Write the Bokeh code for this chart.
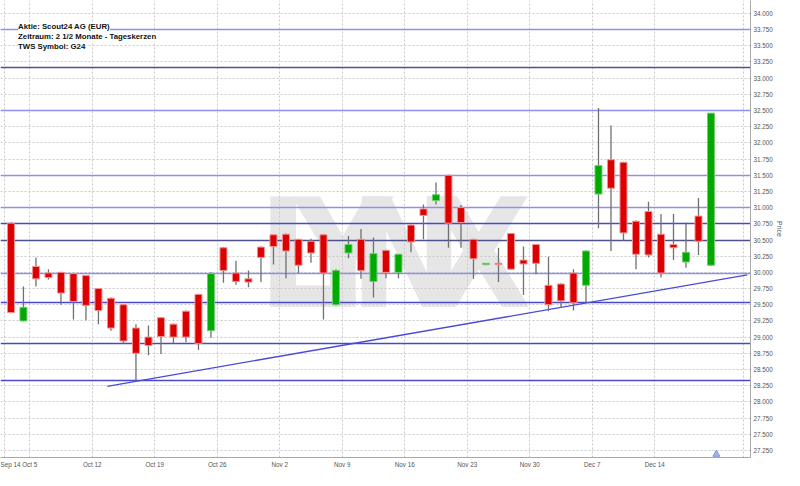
import numpy as np
from bokeh.plotting import figure
from bokeh.models import ColumnDataSource, FixedTicker, Range1d, Label, PrintfTickFormatter, Title
from bokeh.core.properties import value
from bokeh.embed import file_html
from bokeh.resources import INLINE

# ---- daily candles (Scout24 AG, EUR) ----
open_ = [30.76, 29.25, 30.09, 29.99, 30.00, 29.98, 29.95, 29.75, 29.60, 29.50,
         29.14, 29.00, 29.30, 29.20, 29.40, 29.66, 29.10, 30.38, 29.99, 29.90,
         30.39, 30.58, 30.59, 30.51, 30.48, 30.58, 29.50, 30.30, 30.51, 29.86,
         30.34, 30.00, 30.73, 30.98, 31.11, 31.50, 31.00, 30.51, 30.12, 30.14,
         30.60, 30.19, 30.43, 29.80, 29.82, 29.99, 29.80, 31.21, 31.74, 31.70,
         30.79, 30.94, 30.59, 30.43, 30.16, 30.87, 30.11]
high = [30.77, 29.78, 30.23, 30.05, 30.01, 29.99, 29.96, 29.76, 29.61, 29.51,
        29.20, 29.18, 29.31, 29.21, 29.41, 29.67, 30.00, 30.39, 30.18, 30.03,
        30.40, 30.59, 30.60, 30.52, 30.52, 30.59, 30.05, 30.56, 30.67, 30.54,
        30.35, 30.28, 30.74, 31.05, 31.39, 31.51, 31.04, 30.52, 30.14, 30.38,
        30.61, 30.40, 30.44, 30.24, 29.83, 30.05, 30.34, 32.54, 32.27, 31.71,
        30.80, 31.09, 30.90, 30.90, 30.77, 31.15, 32.46]
low = [29.37, 29.24, 29.78, 29.89, 29.50, 29.27, 29.26, 29.20, 29.10, 28.90,
       28.32, 28.72, 28.74, 28.90, 28.92, 28.80, 28.99, 29.84, 29.81, 29.77,
       29.85, 30.12, 29.91, 29.99, 30.15, 29.27, 29.49, 30.22, 29.90, 29.61,
       29.91, 29.91, 30.31, 30.51, 31.05, 30.38, 30.38, 29.90, 30.11, 29.85,
       30.04, 29.65, 29.97, 29.40, 29.45, 29.41, 29.53, 30.68, 30.33, 30.49,
       30.05, 30.23, 29.92, 30.19, 30.07, 30.27, 30.10]
close = [29.38, 29.46, 29.90, 29.92, 29.68, 29.55, 29.49, 29.41, 29.14, 28.94,
         28.75, 28.87, 29.01, 29.00, 29.00, 28.90, 29.98, 30.03, 29.86, 29.85,
         30.23, 30.40, 30.33, 30.11, 30.30, 29.99, 30.03, 30.43, 30.03, 30.29,
         30.00, 30.28, 30.47, 30.88, 31.20, 30.76, 30.77, 30.21, 30.14, 30.12,
         30.05, 30.13, 30.14, 29.50, 29.56, 29.53, 30.33, 31.65, 31.30, 30.61,
         30.28, 30.27, 29.99, 30.38, 30.31, 30.48, 32.46]

# ---- week labels (first candle index of each week) ----
week_labels = ["Sep 14", "Oct 5", "Oct 12", "Oct 19", "Oct 26", "Nov 2",
               "Nov 9", "Nov 16", "Nov 23", "Nov 30", "Dec 7", "Dec 14"]
week_first_idx = [0, 2, 7, 12, 17, 22, 27, 32, 37, 42, 47, 52]

# ---- drawn horizontal levels and trend line ----
levels = [33.75, 33.16, 32.50, 31.50, 31.00, 30.75, 30.50, 29.98, 29.53, 28.90, 28.33]
level_kind = ["light", "grey", "light", "light", "light", "dark", "grey",
              "light", "dark", "dark", "dark"]
trend_idx = [7.7, 58.9]
trend_price = [28.24, 29.96]

# event marker
event_idx = [56.43]
event_price = [27.19]

title_lines = ["Aktie: Scout24 AG (EUR)", "Zeitraum: 2 1/2 Monate - Tageskerzen", "TWS Symbol: G24"]

y_ticks = [round(v, 3) for v in np.arange(27.25, 34.001, 0.25)]

p = figure(width=784, height=470, output_backend="svg", toolbar_location=None,
           x_range=Range1d(-0.836, 59.16), y_range=Range1d(27.14, 34.2),
           y_axis_location="right", min_border_left=0, min_border_top=0,
           min_border_bottom=0, min_border_right=0)
p.outline_line_color = None
p.background_fill_color = "white"

# watermark
wm = ColumnDataSource(dict(x=[23.22, 26.55, 31.64, 37.45], y=[30.27] * 4, t=list("LYNX")))
p.text(x="x", y="y", text="t", source=wm,
       text_font=value("Liberation Sans Narrow, DejaVu Sans Condensed, sans-serif"),
       text_font_style="bold", text_font_size="152px", text_color="#e6e6e6",
       text_align="center", text_baseline="middle", level="image")

# axes
tick_pos = [i - 0.5 for i in week_first_idx] + [58.6]
overrides = {i - 0.5: lab for i, lab in zip(week_first_idx, week_labels)}
overrides[58.6] = ""
p.xaxis.ticker = FixedTicker(ticks=tick_pos)
p.xaxis.major_label_overrides = overrides
p.yaxis.ticker = FixedTicker(ticks=y_ticks)
p.yaxis.formatter = PrintfTickFormatter(format="%.3f")
for ax in (p.xaxis, p.yaxis):
    ax.axis_line_color = "#a8a8a8"
    ax.major_tick_line_color = None
    ax.minor_tick_line_color = None
    ax.major_tick_out = 0
    ax.major_tick_in = 0
    ax.minor_tick_out = 0
    ax.minor_tick_in = 0
    ax.major_label_text_font = "Liberation Sans"
    ax.major_label_text_font_size = "6.3px"
    ax.major_label_text_color = "#555555"
    ax.major_label_standoff = 3

p.xgrid.ticker = FixedTicker(ticks=tick_pos)
p.ygrid.ticker = FixedTicker(ticks=y_ticks)
for g in (p.xgrid, p.ygrid):
    g.grid_line_color = "#c9c9c9"
    g.grid_line_dash = "2 2"
    g.grid_line_width = 1

# horizontal levels
kind_color = {"light": "#9090ea", "dark": "#4848c8", "grey": "#50508f"}
lv = ColumnDataSource(dict(y=levels, c=[kind_color[k] for k in level_kind]))
p.hspan(y="y", line_color="c", line_width=1.5, source=lv)

# trend line
p.line(trend_idx, trend_price, line_color="#4a4ad8", line_width=1.3)

# candles
idx = list(range(len(open_)))
up = [c >= o for o, c in zip(open_, close)]
src = ColumnDataSource(dict(
    x=idx, h=high, l=low,
    top=[max(o, c) for o, c in zip(open_, close)],
    bottom=[min(o, c) for o, c in zip(open_, close)],
    fill=["#00aa00" if u else "#dd0000" for u in up],
    edge=["#70cc70" if u else "#f29090" for u in up],
))
p.segment(x0="x", y0="h", x1="x", y1="l", source=src, line_color="#707070", line_width=1.3)
p.vbar(x="x", top="top", bottom="bottom", width=0.56, fill_color="fill",
       line_color="edge", line_width=1, source=src)

p.scatter(event_idx, event_price, marker="triangle", size=7, fill_color="#9fb4ee",
          line_color="#7f94d8")

# title block (placed in data units so it follows the chart scale)
row_prices = [33.795, 33.639, 33.482]
for t, yv in zip(title_lines, row_prices):
    p.add_layout(Label(x=0.57, y=yv, text=t,
                       text_font="Liberation Sans", text_font_size="7.8px",
                       text_font_style="bold", text_color="#111111", text_baseline="middle",
                       background_fill_color="white"))

# axis title on the right margin
p.add_layout(Title(text="Price", align="center", text_font="Liberation Sans",
                   text_font_size="7px", text_font_style="normal", text_color="#555555",
                   standoff=0, offset=0), "right")

open("out.html", "w").write(file_html(p, INLINE))
